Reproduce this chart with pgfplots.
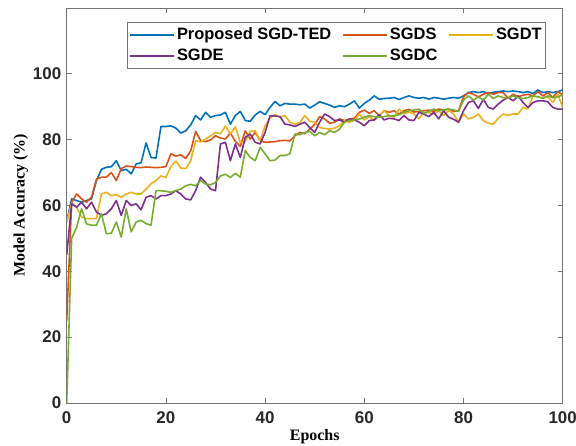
\documentclass[border=0pt]{standalone}
\usepackage{fontspec}
\setmainfont{Liberation Serif}
\setsansfont{Liberation Sans}
\usepackage{pgfplots}
\usepackage{pgfplotstable}
\usetikzlibrary{calc}
\pgfplotsset{compat=1.18}
\definecolor{mBlue}{rgb}{0,0.447,0.741}
\definecolor{mOrange}{rgb}{0.85,0.325,0.098}
\definecolor{mYellow}{rgb}{0.929,0.694,0.125}
\definecolor{mPurple}{rgb}{0.494,0.184,0.556}
\definecolor{mGreen}{rgb}{0.466,0.674,0.188}
\definecolor{axgray}{rgb}{0.45,0.45,0.45}
\pgfplotstableread{
e blue orange yellow purple green
0 55 25 55 45 0
1 62 61 60.7 60.5 50
2 61.5 63.5 59.5 59.5 53.4
3 61 62 56.5 61 59
4 61.5 61 56 59 54.4
5 62 62.5 56 61 54
6 67.6 68 56 58 54
7 71 68.6 63.5 57 57.5
8 71.6 68.6 64 57.5 51.4
9 71.8 70 63 59 51.6
10 73.6 67.6 63.3 61.5 55
11 70.6 71.2 62.5 57 50.4
12 71 72 63.5 61.5 59
13 69.6 71.8 64 60 52
14 72.6 71.6 63.5 60.5 55
15 73 71.5 63.5 58.7 55.5
16 79 71.7 65 62.5 54.5
17 74.6 71.6 66.6 63 54
18 74.4 71.5 67.6 62 64.5
19 84 71.6 69 63 64.5
20 84 71.8 68.5 63 64.3
21 84.2 75.7 71.8 63.5 64
22 83.5 75 73.5 64.5 64.5
23 82 75.4 71.4 63.5 65
24 82.7 74.3 71.2 62 66
25 84.5 76.6 73.6 61.7 66.4
26 87.3 82.5 79.7 64.5 66
27 86 79.7 79.3 68.6 67.6
28 88.3 79.4 80.2 67 66.5
29 86.8 79.9 81.2 65 66.3
30 87.3 81.2 82.2 64.5 67
31 87.5 80.5 81.8 78.7 69
32 88.3 80.2 84.1 79.2 69.5
33 84.7 82 81.7 73.6 68.5
34 87.3 79.5 83.9 78.7 69.8
35 88.6 78 79.2 74.6 68.6
36 85.8 82.7 79.5 80.7 76.7
37 85.6 80.2 82.5 81.7 74.6
38 87.5 82.2 82.7 79.2 73.6
39 88.6 79.7 79.7 78.7 77.7
40 87.6 79.2 84.2 82.2 75.7
41 89.8 79.3 86.6 87.3 73.6
42 91.6 79.4 87.6 87.2 73.8
43 90.3 79.7 86.8 87 75.2
44 91 79.8 87.3 84.7 75.2
45 90.8 79.6 85.3 84.5 75.7
46 90.8 81.2 84.7 84 81.7
47 90.6 82.2 85.2 84.7 81.5
48 90.8 81.8 87.3 85.3 82.2
49 89.6 83.2 85.6 83.7 82.5
50 90.5 84.7 85.3 82.2 81.2
51 91.5 87 83.7 85.3 82.2
52 91 86.3 83.4 87.8 81.5
53 90.5 85 83.2 87 82.7
54 89.8 85.3 83.5 85.8 82.2
55 90.3 86.3 84.2 86 83.2
56 90 85.8 85.8 85.3 85.3
57 90.8 86.2 85.3 86.3 85.8
58 91.8 86.5 85.9 86 86
59 89.6 88.3 87.8 85.3 86.3
60 91 89 86 84.2 86.8
61 92 88 87 85.8 87.3
62 93.3 88.8 85.8 86 87
63 92.3 87.3 87.3 87.6 86.8
64 92.5 88.8 88.8 86 87
65 92.6 88.3 87.3 86.5 87.3
66 92.8 88.8 86.8 86.3 87.2
67 92.2 87.8 89.3 85.8 87.6
68 92.8 88.8 87.8 87.3 88.3
69 93.3 89.2 88.4 86 88.8
70 92.8 88.4 87.8 85.8 89
71 92.6 88.6 86.3 88.3 89.3
72 92.8 88.8 88.3 87.8 88
73 92.3 89 88.2 87 88.6
74 92.8 88.6 87.8 88.3 89.3
75 92.6 89.3 88.8 86.3 88.8
76 92.3 89 87.3 88.8 89
77 92.6 89.3 88.8 86.8 89.3
78 92.8 88.6 87.8 86.2 89
79 92.6 88.8 85.3 85.3 88.6
80 93.3 93 87.8 88.8 92
81 94.3 94.3 86.3 91.3 93.3
82 94.6 93.8 86.8 91.8 92
83 94.3 93 87.8 89.5 93
84 94.6 93.8 85.8 92.3 92
85 94 94.3 85 89.8 93.8
86 94.4 93.8 84.7 89.3 92.5
87 94.6 94.3 86.5 90.8 93.3
88 94.8 94.3 87.8 92 92.8
89 94.6 92.6 87.4 92.8 92.6
90 94.8 93.8 87.8 91.8 93.3
91 94.6 93 87.8 93.3 92.8
92 94.3 93.5 89.8 91.3 92.5
93 94.6 93.8 89.3 89.8 92.8
94 94 93.3 93.3 91.3 93.3
95 95.1 94.6 93 91.8 93
96 94.3 93.3 92.6 91.8 92.6
97 94.6 94.3 93 91.5 93.3
98 94.3 92.8 91.3 89.8 92.8
99 94.6 94.6 93.8 89.3 93
100 95.1 93.6 89.8 89.3 93.6
}\acc
\begin{document}
\begin{tikzpicture}
\begin{axis}[
  scale only axis, width=496bp, height=395bp,
  xmin=0, xmax=100, ymin=0, ymax=120,
  xtick={0,20,...,100}, ytick={0,20,...,100},
  tick align=inside, major tick length=5bp,
  axis line style={axgray, line width=0.7bp},
  tick style={axgray, line width=0.7bp},
  /pgf/number format/assume math mode=true,
  ticklabel style={font=\sffamily\bfseries\fontsize{17}{17}\selectfont, text=black!85},
  xticklabel style={yshift=-5bp},
  yticklabel style={xshift=-2bp},
  xlabel={Epochs}, ylabel={Model Accuracy (\%)},
  label style={font=\rmfamily\bfseries\fontsize{16}{16}\selectfont},
  xlabel style={yshift=1bp},
  ylabel style={yshift=-2bp},
  legend style={at={(0.122,0.965)}, anchor=north west, legend columns=3,
    font=\sffamily\bfseries\fontsize{16.5}{16.5}\selectfont, draw=axgray,
    inner xsep=2bp, inner ysep=4bp, row sep=4bp,
    /tikz/every even column/.append style={column sep=9bp}},
  legend cell align=left,
  legend image code/.code={\draw[line width=1.6bp, #1] (0bp,0bp) -- (44bp,0bp);},
  every axis plot/.append style={line width=1.6bp, line join=round},
]
\addplot[mBlue, line width=1.6bp] table[x=e, y=blue] {\acc};
\addplot[mOrange, line width=1.6bp] table[x=e, y=orange] {\acc};
\addplot[mYellow, line width=1.6bp] table[x=e, y=yellow] {\acc};
\addplot[mPurple, line width=1.6bp] table[x=e, y=purple] {\acc};
\addplot[mGreen, line width=1.6bp] table[x=e, y=green] {\acc};
\legend{Proposed SGD-TED, SGDS, SGDT, SGDE, SGDC}
\end{axis}
\pgfresetboundingbox
\path[use as bounding box] ($(current axis.south west)+(-66.7bp,-43bp)$) rectangle ($(current axis.north east)+(13.3bp,8bp)$);
\end{tikzpicture}
\end{document}
